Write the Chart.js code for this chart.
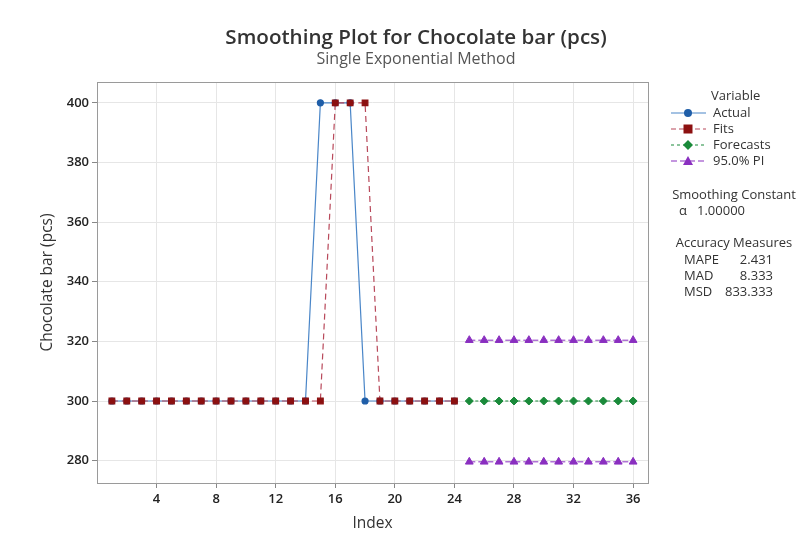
<!DOCTYPE html>
<html><head><meta charset="utf-8">
<script src="https://cdn.jsdelivr.net/npm/chart.js@4/dist/chart.umd.min.js"></script>
<style>html,body{margin:0;padding:0;background:#fff}#w{width:808px;height:545px}</style>
</head><body><div id="w"><canvas id="c"></canvas></div>
<script>
const indexActual = [1,2,3,4,5,6,7,8,9,10,11,12,13,14,15,16,17,18,19,20,21,22,23,24];
const actual = [300,300,300,300,300,300,300,300,300,300,300,300,300,300,400,400,400,300,300,300,300,300,300,300];
const fits   = [300,300,300,300,300,300,300,300,300,300,300,300,300,300,300,400,400,400,300,300,300,300,300,300];
const indexForecast = [25,26,27,28,29,30,31,32,33,34,35,36];
const forecasts = [300,300,300,300,300,300,300,300,300,300,300,300];
const piUpper = [320.4,320.4,320.4,320.4,320.4,320.4,320.4,320.4,320.4,320.4,320.4,320.4];
const piLower = [279.6,279.6,279.6,279.6,279.6,279.6,279.6,279.6,279.6,279.6,279.6,279.6];
const xTicks = [4,8,12,16,20,24,28,32,36];
const yTicks = [280,300,320,340,360,380,400];
const accuracy = [["MAPE","2.431"],["MAD","8.333"],["MSD","833.333"]];
const alphaValue = "1.00000";

const FONT = "'Open Sans', 'Noto Sans', sans-serif";
const C_ACT = '#1f5ea8', C_ACT_L = '#4a86c8';
const C_FIT = '#8c1010', C_FIT_L = '#b8485a';
const C_FC = '#1a8a3a';
const C_PI = '#8a2fc0';

const pts = (xs, ys) => xs.map((x,i)=>({x, y: ys[i]}));

const legendItems = [
  {label:'Actual', color:C_ACT, line:C_ACT_L, dash:[], style:'circle'},
  {label:'Fits', color:C_FIT, line:C_FIT_L, dash:[5,3], style:'rect'},
  {label:'Forecasts', color:C_FC, line:C_FC, dash:[3,3], style:'rectRot'},
  {label:'95.0% PI', color:C_PI, line:C_PI, dash:[6,3], style:'triangle'}
];

const overlay = {
  id:'overlay',
  afterDraw(chart){
    const ctx = chart.ctx, a = chart.chartArea;
    ctx.save();
    ctx.strokeStyle = '#9a9a9a'; ctx.lineWidth = 1;
    ctx.strokeRect(a.left+0.5, a.top+0.5, a.right-a.left, a.bottom-a.top);
    ctx.fillStyle = '#333'; ctx.textAlign='center'; ctx.textBaseline='middle';
    ctx.font = `600 20.6px ${FONT}`;
    ctx.fillText('Smoothing Plot for Chocolate bar (pcs)', 416, 38);
    ctx.font = `16px ${FONT}`; ctx.fillStyle='#555';
    ctx.fillText('Single Exponential Method', 416, 59);
    ctx.fillStyle = '#333'; ctx.font = `13px ${FONT}`;
    ctx.textAlign='left';
    ctx.fillText('Variable', 711, 96);
    legendItems.forEach((it,i)=>{
      const y = 113 + i*16;
      ctx.strokeStyle = it.line; ctx.lineWidth = 1.2; ctx.setLineDash(it.dash);
      ctx.beginPath(); ctx.moveTo(671,y); ctx.lineTo(706,y); ctx.stroke();
      ctx.setLineDash([]);
      ctx.fillStyle = it.color;
      ctx.beginPath();
      if(it.style==='circle'){ctx.arc(688,y,4,0,Math.PI*2);}
      else if(it.style==='rect'){ctx.rect(683.5,y-4.5,9,9);}
      else if(it.style==='rectRot'){ctx.moveTo(688,y-5);ctx.lineTo(693,y);ctx.lineTo(688,y+5);ctx.lineTo(683,y);ctx.closePath();}
      else {ctx.moveTo(688,y-5);ctx.lineTo(693,y+4);ctx.lineTo(683,y+4);ctx.closePath();}
      ctx.fill();
      ctx.fillStyle='#333';
      ctx.fillText(it.label, 713, y);
    });
    ctx.textAlign='center';
    ctx.fillText('Smoothing Constant', 734, 195);
    ctx.textAlign='left';
    ctx.fillText('\u03B1', 679, 211);
    ctx.fillText(alphaValue, 697, 211);
    ctx.textAlign='center';
    ctx.fillText('Accuracy Measures', 734, 243);
    accuracy.forEach((r,i)=>{
      const y = 260 + i*16;
      ctx.textAlign='left'; ctx.fillText(r[0], 684, y);
      ctx.textAlign='right'; ctx.fillText(r[1], 773, y);
    });
    ctx.restore();
  }
};

new Chart(document.getElementById('c'), {
  type:'line',
  data:{datasets:[
    {label:'Actual', data:pts(indexActual, actual), borderColor:C_ACT_L, backgroundColor:C_ACT, pointBackgroundColor:C_ACT, pointBorderColor:C_ACT, pointStyle:'circle', pointRadius:3, borderWidth:1.2, order:2},
    {label:'Fits', data:pts(indexActual, fits), borderColor:C_FIT_L, borderDash:[6,4], backgroundColor:C_FIT, pointBackgroundColor:C_FIT, pointBorderColor:C_FIT, pointStyle:'rect', pointRadius:4, borderWidth:1.2, order:1},
    {label:'Forecasts', data:pts(indexForecast, forecasts), borderColor:C_FC, borderDash:[3,3], pointBackgroundColor:C_FC, pointBorderColor:C_FC, pointStyle:'rectRot', pointRadius:4, borderWidth:1, order:0},
    {label:'95.0% PI', data:pts(indexForecast, piUpper), borderColor:C_PI, borderDash:[6,3], pointBackgroundColor:C_PI, pointBorderColor:C_PI, pointStyle:'triangle', pointRadius:4.5, borderWidth:1, order:0},
    {label:'95.0% PI lower', data:pts(indexForecast, piLower), borderColor:C_PI, borderDash:[6,3], pointBackgroundColor:C_PI, pointBorderColor:C_PI, pointStyle:'triangle', pointRadius:4.5, borderWidth:1, order:0}
  ]},
  options:{
    responsive:true, maintainAspectRatio:false, animation:false,
    layout:{padding:{top:82, right:160, left:38, bottom:12}},
    plugins:{legend:{display:false}, title:{display:false}, tooltip:{enabled:false}},
    scales:{
      x:{type:'linear', min:0, max:37,
        afterBuildTicks(s){ s.ticks = xTicks.map(v=>({value:v})); },
        afterFit(s){ s.height = 50; },
        grid:{color:'#e6e6e6', drawTicks:true, tickLength:5, tickColor:'#888'},
        border:{display:false},
        ticks:{color:'#222', font:{family:FONT, size:13, weight:'600'}, padding:3, maxRotation:0},
        title:{display:true, text:'Index', color:'#333', font:{family:FONT, size:15.5}, padding:{top:2, bottom:0}}
      },
      y:{min:272.5, max:407,
        afterBuildTicks(s){ s.ticks = yTicks.map(v=>({value:v})); },
        afterFit(s){ s.width = 59; },
        grid:{color:'#e6e6e6', drawTicks:true, tickLength:5, tickColor:'#888'},
        border:{display:false},
        ticks:{color:'#222', font:{family:FONT, size:13, weight:'600'}, padding:3},
        title:{display:true, text:'Chocolate bar (pcs)', color:'#333', font:{family:FONT, size:15.5}, padding:{top:0, bottom:0}}
      }
    }
  },
  plugins:[overlay]
});
</script>
</body></html>
